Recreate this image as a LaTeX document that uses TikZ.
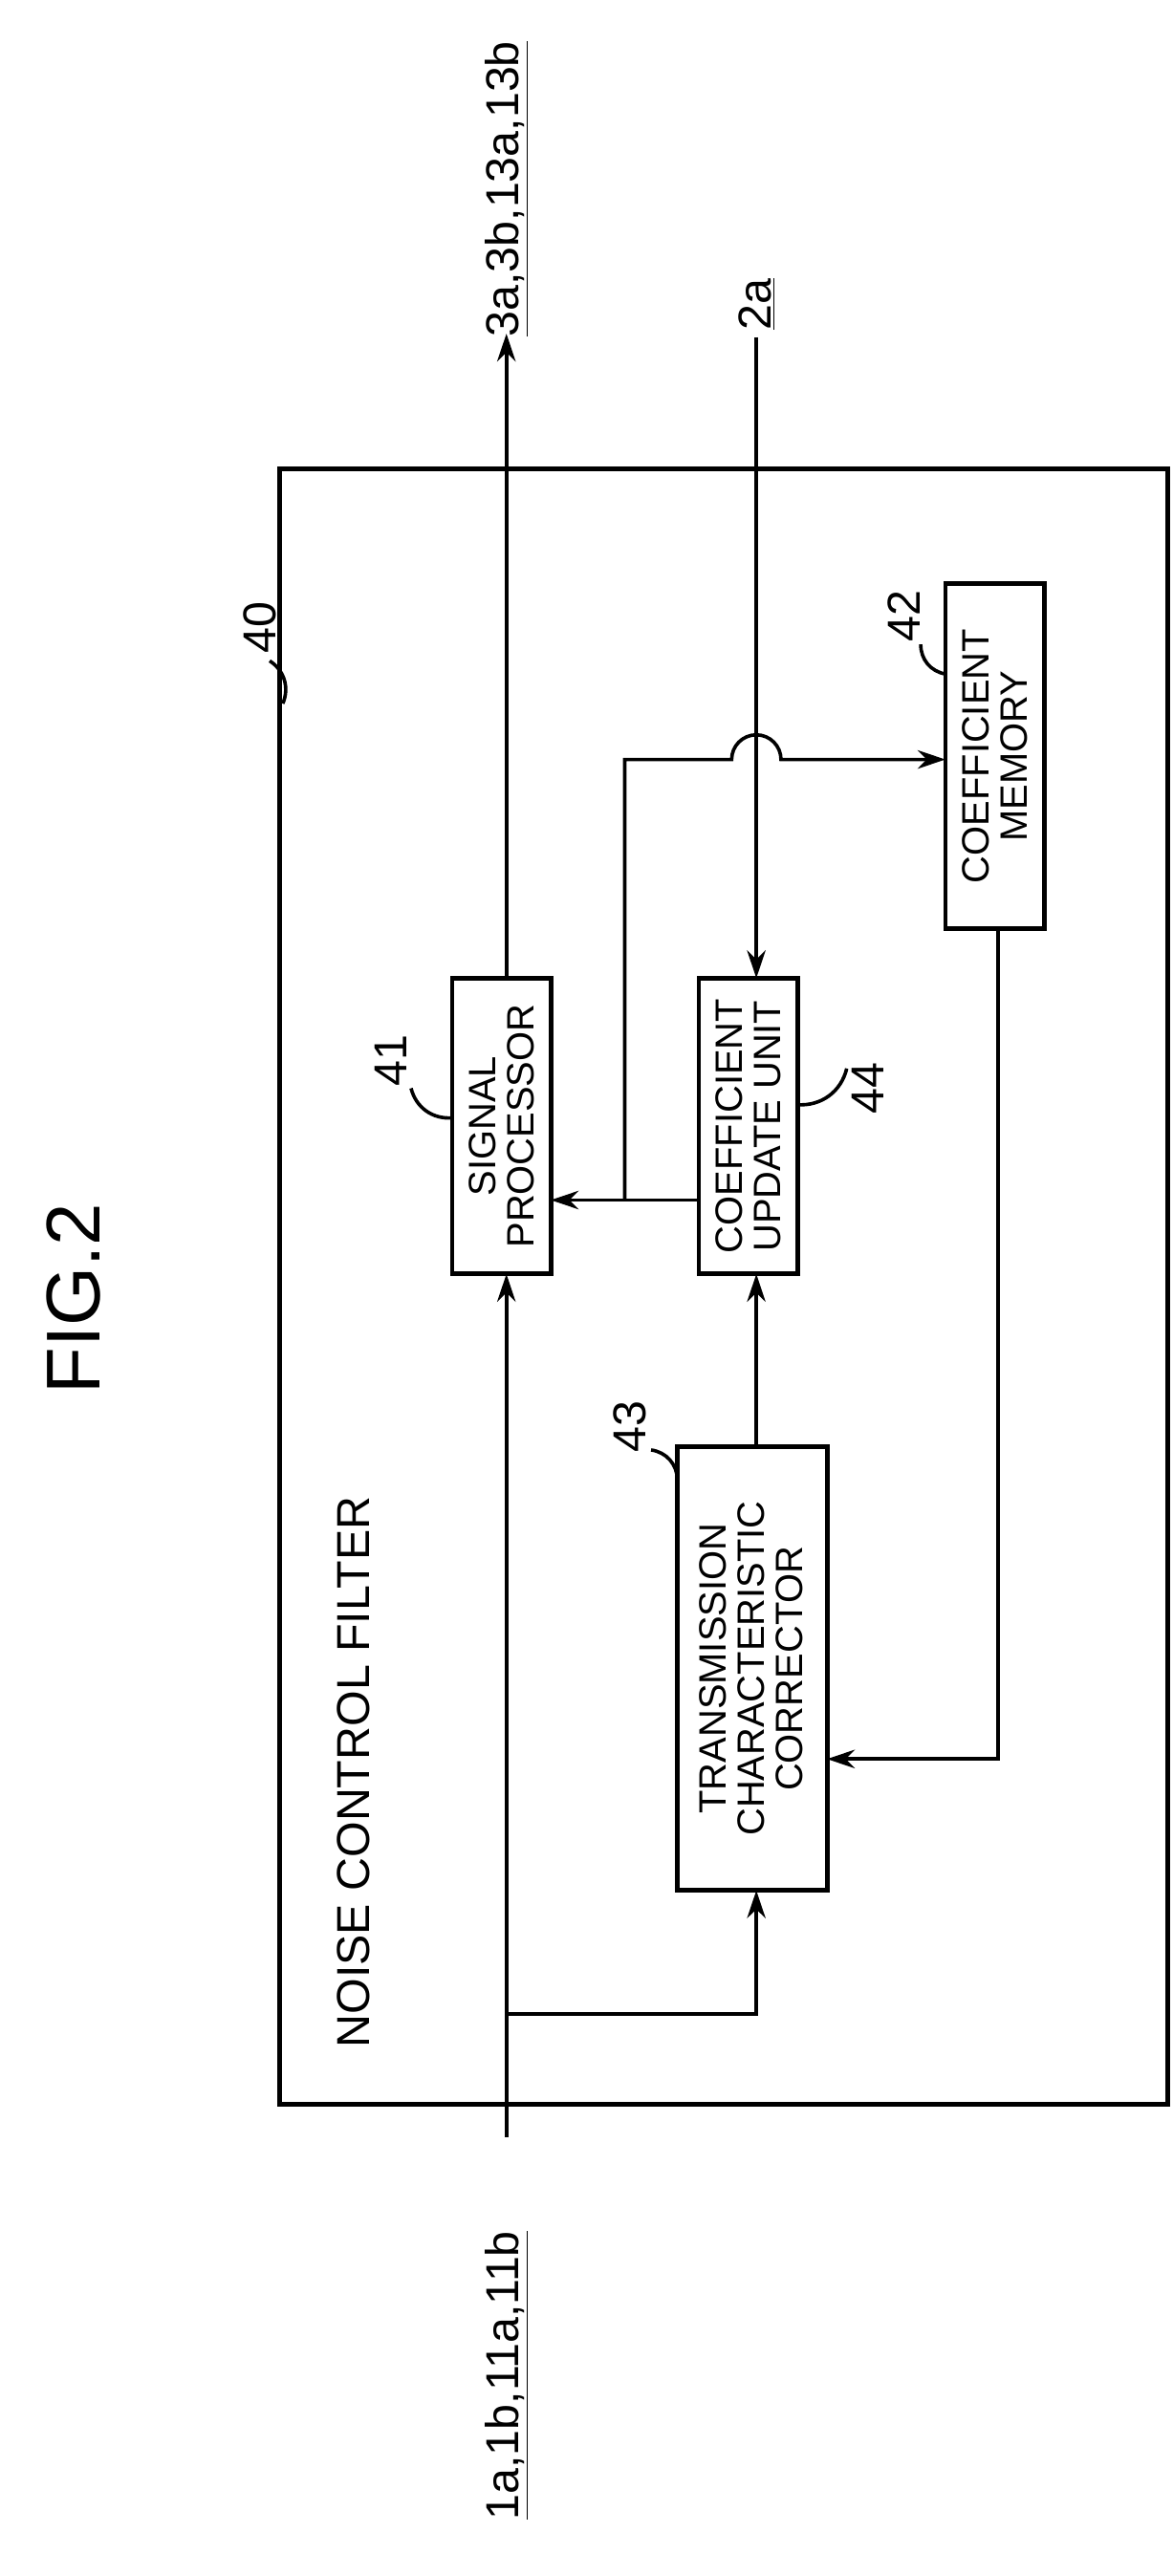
\documentclass[tikz,border=0pt]{standalone}
\usepackage{fontspec}
\setmainfont{Liberation Sans}
\usetikzlibrary{positioning, arrows.meta}
\tikzset{
  box/.style={line width=4pt},
  lbl/.style={inner sep=1pt, rotate=90, font=\fontsize{40}{42}\selectfont},
  txt/.style={lbl, align=center, font=\fontsize{33}{33}\selectfont},
  wire/.style={line width=3pt},
  sig/.style={wire, -{Stealth[length=24pt,width=16pt]}},
}
\begin{document}
\begin{tikzpicture}[x=0.05cm, y=-0.05cm]
  \useasboundingbox (0,0) rectangle (713,1567);
  \node[lbl, font=\fontsize{66}{68}\selectfont] (fig) at (45,790) {FIG.2};
  \draw[line width=4pt] (170,285) rectangle (710,1280);
  \node[lbl, font=\fontsize{40}{42}\selectfont] (title) at (215,1078) {NOISE CONTROL FILTER};

  % blocks
  \draw[box] (275,595) rectangle (335,775);
  \node[txt] (sp) at (305,685) {SIGNAL\\PROCESSOR};
  \draw[box] (425,595) rectangle (485,775);
  \node[txt] (cuu) at (455,685) {COEFFICIENT\\UPDATE UNIT};
  \draw[box] (575,355) rectangle (635,565);
  \node[txt] (cm) at (605,460) {COEFFICIENT\\MEMORY};
  \draw[box] (412,880) rectangle (503,1150);
  \node[txt] (tcc) at (457,1015) {TRANSMISSION\\CHARACTERISTIC\\CORRECTOR};

  % reference numerals
  \node[lbl] (n40) at (158,382) {40};
  \node[lbl] (n41) at (238,645) {41};
  \node[lbl] (n44) at (528,662) {44};
  \node[lbl] (n42) at (550,375) {42};
  \node[lbl] (n43) at (383,868) {43};
  \draw[wire] (164,402) to[bend left=40] (172,428);
  \draw[wire] (250,662) to[bend right=40] (275,680);
  \draw[wire] (515,650) to[bend left=40] (485,672);
  \draw[wire] (560,392) to[bend right=40] (575,410);
  \draw[wire] (396,882) to[bend left=40] (412,900);

  % terminals
  \node[lbl] (out) at (308,115) {\underline{3a,3b,13a,13b}};
  \node[lbl] (ref) at (460,185) {\underline{2a}};
  \node[lbl] (in) at (308,1445) {\underline{1a,1b,11a,11b}};
  \coordinate (outend) at (308,203);
  \coordinate (refend) at (460,205);
  \coordinate (inend) at (308,1300);

  % connectors
  \draw[sig] (308,595) -- (outend);
  \draw[sig] (refend) -- (460,595);
  \draw[sig] (inend) -- (308,775);
  \draw[sig] (308,1225) -| (460,1150);
  \draw[sig] (460,880) -- (460,775);
  \draw[sig] (425,730) -- (335,730);
  \draw[sig] (380,730) -- (380,462) -- (445,462) arc (180:360:15) -- (575,462);
  \draw[sig] (607,565) |- (503,1070);
\end{tikzpicture}
\end{document}
